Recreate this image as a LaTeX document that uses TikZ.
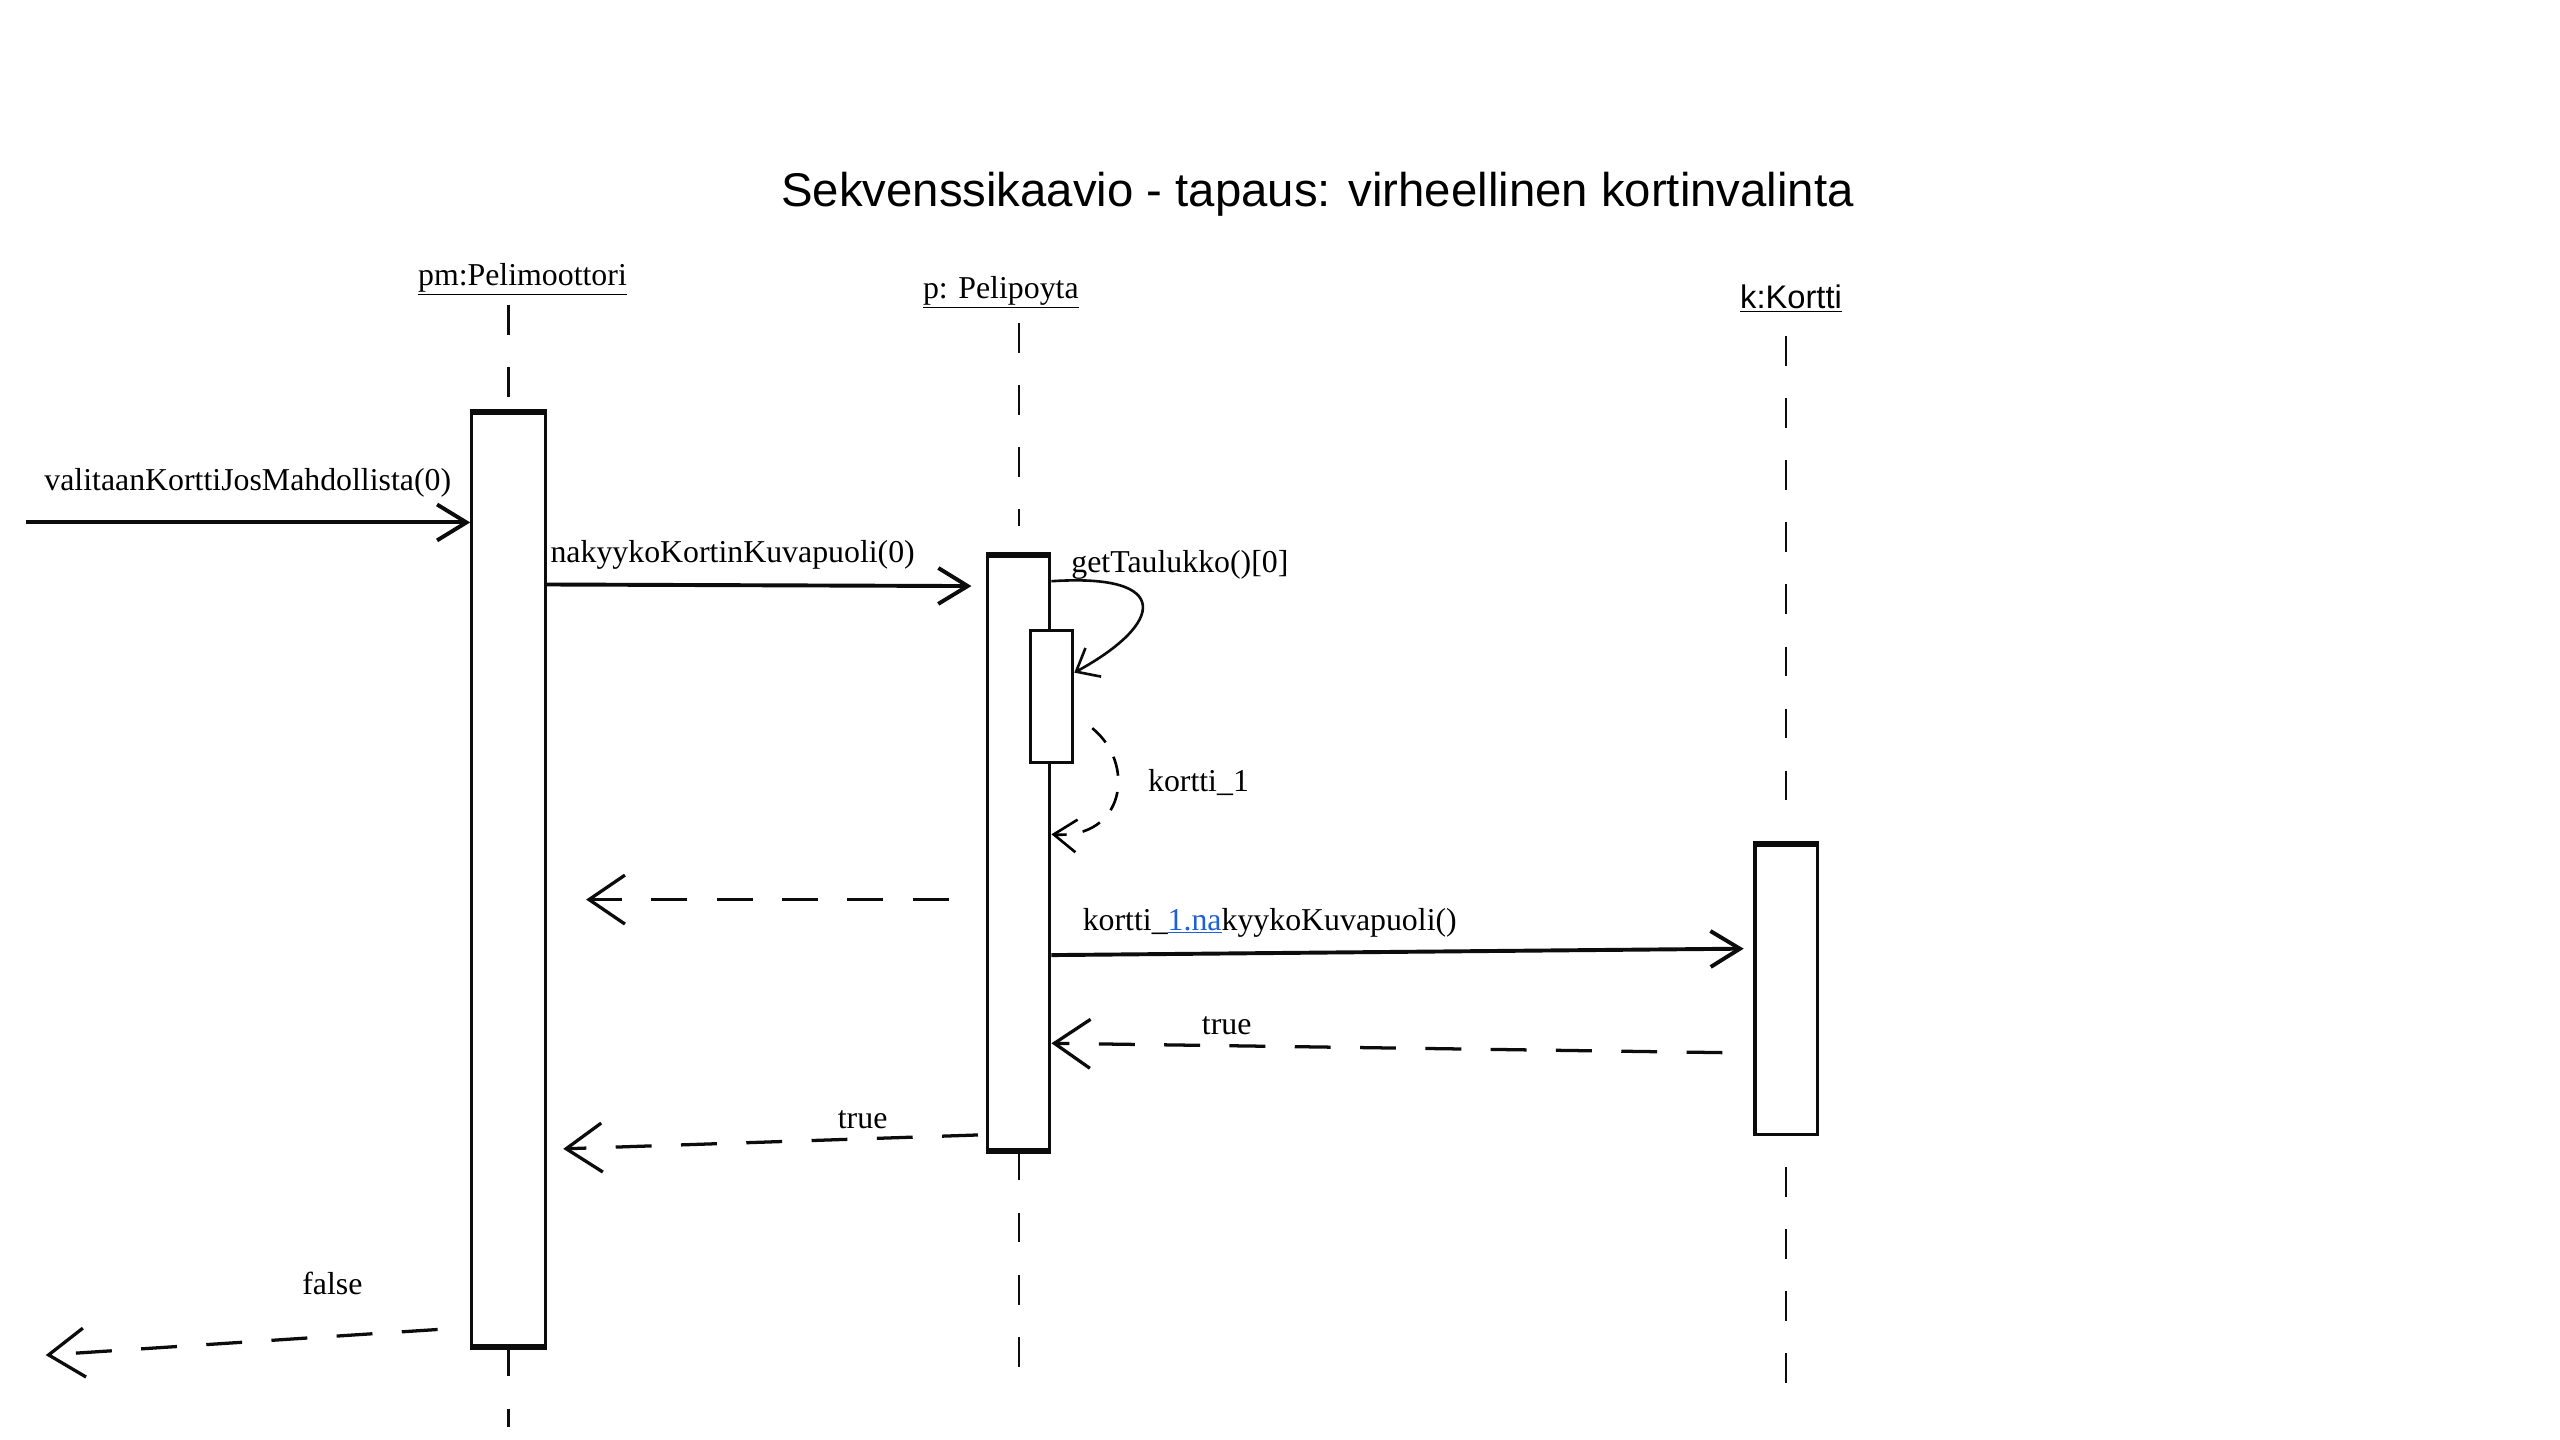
\documentclass[tikz,border=0pt]{standalone}
\usepackage{fontspec}
\setmainfont{Liberation Serif}
\newfontfamily\headsans{Liberation Sans}
\usepackage{xcolor}
\usepackage{tikz}
\usetikzlibrary{arrows.meta,positioning}
\definecolor{Ink}{RGB}{12,12,12}
\definecolor{LinkBlue}{RGB}{30,96,214}
\tikzset{
  headlabel/.style={inner sep=0pt,font=\fontsize{19.5}{22}\selectfont},
  msglabel/.style={inner sep=0pt,anchor=west,font=\fontsize{19.5}{22}\selectfont},
  actbox/.style={draw=Ink,line width=2pt,fill=white,inner sep=0pt},
  lid/.style={draw=Ink,line width=3.4pt},
  lifeline/.style={draw=Ink,line width=1.5pt,dash pattern=on 18pt off 20pt},
  call/.style={-{Straight Barb[length=18pt,width=22pt]},line width=2.4pt,draw=Ink},
  selfcall/.style={-{Straight Barb[length=12pt,width=20pt]},line width=1.6pt,draw=Ink},
  reply/.style={-{Straight Barb[length=22pt,width=30pt]},line width=2pt,draw=Ink,dash pattern=on 22pt off 18pt},
  selfreply/.style={-{Straight Barb[length=14pt,width=20pt]},line width=1.6pt,dash pattern=on 12pt off 10pt}
}
\begin{document}
\begin{tikzpicture}[x=1pt,y=-1pt]
\useasboundingbox[fill=white] (0,0) rectangle (1568,882);
\node[font=\headsans\fontsize{29}{34}\selectfont] (title) at (807,119) {Sekvenssikaavio - tapaus: virheellinen kortinvalinta};
% olioiden nimet
\node[headlabel] (pmhead) at (320,171) {\underline{pm:Pelimoottori}};
\node[headlabel] (phead) at (613,179) {\underline{p: Pelipoyta}};
\node[headlabel,font=\headsans\fontsize{20}{24}\selectfont] (khead) at (1097,183) {\underline{k:Kortti}};
% aktivaatiot
\node[actbox,minimum width=45pt,minimum height=571pt] (pmact) at (311.5,538.5) {};
\node[actbox,minimum width=38pt,minimum height=363pt] (pact) at (624,522.5) {};
\node[actbox,minimum width=38pt,minimum height=177pt] (kact) at (1094,606.5) {};
\node[actbox,minimum width=26pt,minimum height=81pt] (pself) at (644,426.5) {};
\foreach \b in {pmact,pact,kact} \draw[lid] (\b.north west) -- (\b.north east);
\foreach \b in {pmact,pact} \draw[lid] (\b.south west) -- (\b.south east);
% elamanviivat
\draw[lifeline] (pmact.north |- 0,187) -- (pmact.north);
\draw[lifeline] (pmact.south) -- (pmact.south |- 0,874);
\draw[lifeline] (pact.north |- 0,198) -- (pact.north |- 0,322);
\draw[lifeline] (pact.south) -- (pact.south |- 0,841);
\draw[lifeline] (kact.north |- 0,206) -- (kact.north |- 0,506);
\draw[lifeline] (kact.south |- 0,715) -- (kact.south |- 0,850);
% viestit
\coordinate (caller) at (16,320);
\draw[call] (caller) -- (pmact.west |- caller);
\node[msglabel] (valitaan) at (27,296) {valitaanKorttiJosMahdollista(0)};
\draw[call,shorten >=9pt] (pmact.east |- 0,358) -- (pact.west |- 0,359);
\node[msglabel] (nakyyko) at (337,340) {nakyykoKortinKuvapuoli(0)};
\draw[selfcall] (pact.east |- 0,356) .. controls +(75,-5) and +(55,-30) .. (pself.east |- 0,412);
\node[msglabel] (gettaulukko) at (656,346) {getTaulukko()[0]};
\draw[selfreply] ([shift={(11,19.5)}]pself.east) .. controls +(27,22) and +(45,3) .. (pact.east |- 0,511);
\node[msglabel] (kortti) at (703,479) {kortti\_1};
\draw[reply,shorten <=23pt,shorten >=24pt] (pact.west |- 0,551) -- (pmact.east |- 0,551);
\draw[call,shorten >=6pt] (pact.east |- 0,585) -- (kact.west |- 0,581);
\node[msglabel] (kuvapuoli) at (663,565) {kortti\_\textcolor{LinkBlue}{\underline{1.na}}kyykoKuvapuoli()};
\draw[reply,shorten <=19pt] (kact.west |- 0,645) -- (pact.east |- 0,639);
\node[msglabel] (truek) at (736,628) {true};
\draw[reply,shorten <=5pt,shorten >=10pt] (pact.west |- 0,695) -- (pmact.east |- 0,704);
\node[msglabel] (truep) at (513,686) {true};
\coordinate (outside) at (28,830);
\draw[reply,shorten <=20pt] (pmact.west |- 0,813) -- (outside);
\node[msglabel] (false) at (185,786) {false};
\end{tikzpicture}
\end{document}
